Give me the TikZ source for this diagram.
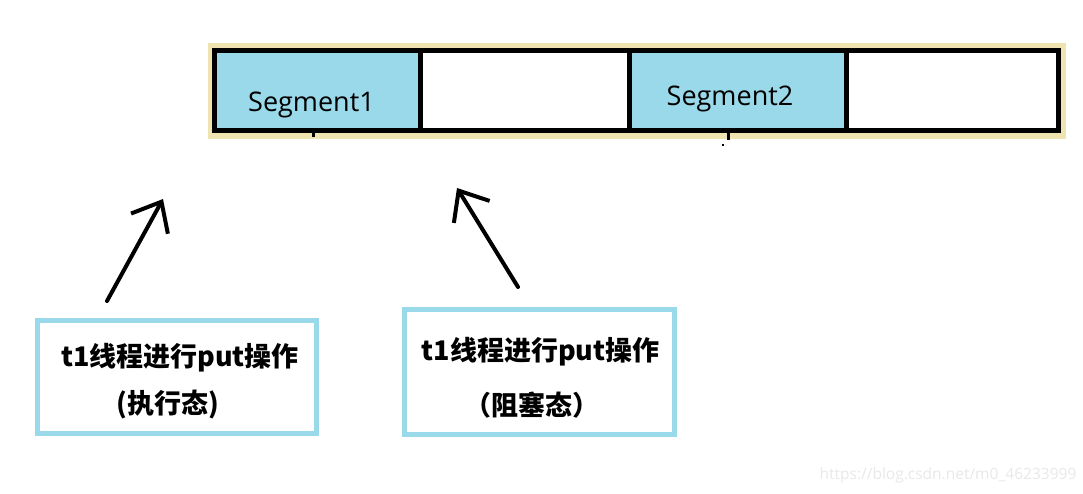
\documentclass[tikz,border=0pt]{standalone}
\usepackage{fontspec}
\setmainfont{Open Sans}
\newfontfamily\cjk{Noto Sans CJK SC}
\usetikzlibrary{arrows.meta}
\definecolor{segblue}{HTML}{99D9EA}
\definecolor{framebeige}{HTML}{EFE4B0}

\begin{document}
\begin{tikzpicture}[x=1pt, y=-1pt,
  cell/.style={draw=black, line width=5pt, minimum height=79.5pt, inner sep=0pt},
  seg/.style={cell, fill=segblue},
  free/.style={cell, fill=white},
  seglabel/.style={font=\fontsize{27}{30}\selectfont, anchor=base, inner sep=0pt},
  thread/.style={draw=segblue, line width=5pt, fill=white, inner sep=0pt},
  tlabel/.style={font=\cjk\bfseries\fontsize{27}{30}\selectfont, inner sep=0pt},
  ptr/.style={-{Straight Barb[length=25pt, width=42pt]}, line width=4pt, line cap=round},
]
  \useasboundingbox (0,0) rectangle (1083,493);

  % Segment array
  \fill[framebeige] (208,43) rectangle (1066,139);
  \node[seg,  minimum width=206.5pt] (seg1)  at (317.25,90.25) {};
  \node[free, minimum width=209pt]   (free1) at (525,90.25) {};
  \node[seg,  minimum width=217pt]   (seg2)  at (738,90.25) {};
  \node[free, minimum width=211.5pt] (free2) at (952.25,90.25) {};
  \node[seglabel] (lab1) at (311.5,111) {Segment1};
  \node[seglabel] (lab2) at (730,105) {Segment2};
  \draw[line width=3pt] (313,130) -- (313,137);
  \draw[line width=3pt] (728,130) -- (728,140);
  \draw[line width=2pt] (722,145) -- (724,145);

  % Threads
  \node[thread, minimum width=279pt, minimum height=113pt] (t1) at (176.5,376.5) {};
  \node[tlabel] (t1a) at (180,358) {t1线程进行put操作};
  \node[tlabel] (t1b) at (168,405) {(执行态)};

  \node[thread, minimum width=270pt, minimum height=125pt] (t2) at (539.5,372) {};
  \node[tlabel] (t2a) at (540.5,352) {t1线程进行put操作};
  \node[tlabel] (t2b) at (532,405) {（阻塞态）};

  % Arrows
  \coordinate (p1) at (107,301);
  \coordinate (h1) at (163,199);
  \coordinate (p2) at (518,287);
  \coordinate (h2) at (457,188);
  \draw[ptr] (p1) -- (h1);
  \draw[ptr] (p2) -- (h2);

  \node[font=\fontsize{15.5}{18}\selectfont, text=black!9] (mark) at (948,475) {https://blog.csdn.net/m0\_46233999};
\end{tikzpicture}
\end{document}
